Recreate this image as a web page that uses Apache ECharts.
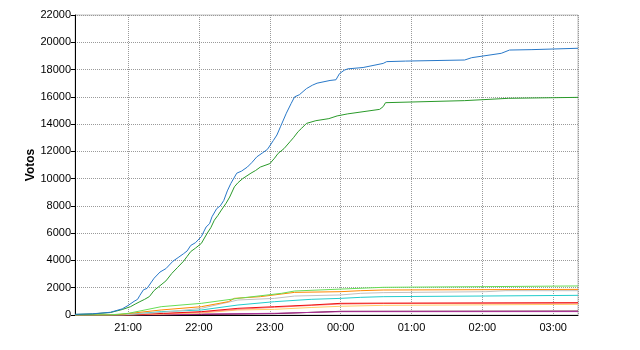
<!DOCTYPE html>
<html>
<head>
<meta charset="utf-8">
<script src="https://cdn.jsdelivr.net/npm/echarts@6/dist/echarts.min.js"></script>
<style>html,body{margin:0;padding:0;background:#fff}#c{width:640px;height:350px}</style>
</head>
<body>
<div id="c"></div>
<script>
// Time range and tick labels
var axisStart = "20:15";
var axisEnd = "03:21";
var yMax = 22000;
var yStep = 2000;

// Series names & colors
var seriesNames = ["S1","S2","S3","S4","S5","S6","S7","S8","S9","S10","S11"];
var seriesColors = ["#2878c8","#2a9a2a","#66dd55","#ff8800","#c0c0c0","#22cccc","#ee1111","#ff8888","#ffcc66","#aa3399","#660033"];

// Series values: [time, votes]
var s1 = [["20:15",50],["20:30",90],["20:45",200],["20:55",450],["21:00",700],["21:05",1000],["21:08",1150],["21:10",1450],["21:13",1850],["21:16",1950],["21:18",2200],["21:22",2700],["21:27",3150],["21:32",3400],["21:38",3950],["21:43",4250],["21:47",4500],["21:50",4700],["21:53",5100],["21:57",5300],["22:02",5750],["22:06",6450],["22:09",6700],["22:11",7200],["22:15",7800],["22:18",8000],["22:21",8400],["22:24",9100],["22:27",9650],["22:32",10400],["22:36",10550],["22:41",10850],["22:45",11200],["22:49",11600],["22:54",11900],["22:58",12150],["23:03",12800],["23:06",13200],["23:09",13800],["23:14",14800],["23:18",15500],["23:21",16000],["23:25",16150],["23:31",16600],["23:36",16850],["23:40",17000],["23:51",17200],["23:56",17250],["23:59",17700],["00:03",17950],["00:06",18050],["00:19",18150],["00:36",18450],["00:39",18580],["00:55",18620],["01:45",18700],["01:51",18870],["02:16",19190],["02:23",19430],["02:42",19460],["03:21",19560]];
var s2 = [["20:15",40],["20:30",80],["20:45",180],["20:55",400],["21:02",610],["21:06",800],["21:10",980],["21:14",1150],["21:18",1350],["21:22",1800],["21:27",2150],["21:32",2500],["21:37",3050],["21:42",3500],["21:47",3950],["21:50",4300],["21:53",4650],["21:57",4900],["22:02",5250],["22:07",6000],["22:10",6400],["22:13",6950],["22:16",7300],["22:19",7700],["22:23",8200],["22:26",8650],["22:30",9400],["22:33",9700],["22:37",10000],["22:44",10400],["22:48",10600],["22:52",10850],["23:00",11100],["23:04",11500],["23:07",11850],["23:12",12200],["23:17",12700],["23:20",13000],["23:24",13450],["23:27",13700],["23:31",14050],["23:39",14250],["23:50",14400],["23:57",14600],["00:06",14750],["00:33",15080],["00:36",15280],["00:38",15570],["01:45",15720],["02:22",15890],["03:21",15960]];
var s3 = [["20:15",0],["20:45",10],["21:00",120],["21:28",610],["22:02",855],["22:33",1220],["23:10",1590],["23:21",1760],["00:00",1900],["00:36",2030],["02:03",2080],["03:21",2130]];
var s4 = [["20:15",0],["20:50",10],["21:28",370],["22:02",610],["22:25",980],["22:30",1220],["22:52",1345],["23:21",1660],["00:00",1710],["00:17",1784],["00:36",1833],["03:21",1880]];
var s5 = [["20:15",0],["20:55",10],["21:30",200],["22:02",490],["22:33",1100],["23:04",1220],["23:21",1390],["00:00",1470],["00:17",1590],["00:36",1640],["02:03",1710],["02:20",1784],["03:21",1784]];
var s6 = [["20:15",0],["20:55",10],["21:28",245],["22:02",367],["22:33",733],["23:04",977],["23:35",1150],["00:00",1220],["00:17",1295],["00:36",1345],["02:03",1393],["03:21",1442]];
var s7 = [["20:15",0],["21:00",10],["21:30",120],["22:02",245],["22:33",490],["23:04",610],["23:35",733],["00:00",855],["00:36",870],["03:21",905]];
var s8 = [["20:15",0],["21:00",10],["22:02",200],["22:33",420],["23:04",560],["23:35",700],["00:00",800],["00:36",840],["03:21",860]];
var s9 = [["20:15",0],["21:05",10],["22:02",150],["22:33",367],["23:04",415],["23:35",550],["00:00",640],["00:36",708],["03:21",782]];
var s10 = [["20:15",0],["21:30",10],["22:02",73],["23:04",122],["00:00",245],["03:21",250]];
var s11 = [["20:15",0],["21:30",5],["22:02",40],["23:04",100],["00:00",270],["03:21",290]];
var allSeries = [s1,s2,s3,s4,s5,s6,s7,s8,s9,s10,s11];

function toTime(hm){
  var p = hm.split(":"), h = +p[0], m = +p[1];
  var d = new Date(2011,4,22,h,m,0);
  if (h < 12) d = new Date(2011,4,23,h,m,0);
  return d.getTime();
}

var series = allSeries.map(function(arr,i){
  return {
    name: seriesNames[i], type: 'line', showSymbol: false, symbol: 'none',
    data: arr.map(function(p){return [toTime(p[0]), p[1]];}),
    lineStyle: {width: 1, color: seriesColors[i]},
    itemStyle: {color: seriesColors[i]},
    z: 20 - i, animation: false
  };
}).reverse();

var font = 'Liberation Sans, Arial, sans-serif';
var chart = echarts.init(document.getElementById('c'), null, {renderer:'canvas'});
chart.setOption({
  animation: false,
  grid: {left: 75, right: 62, top: 15, bottom: 35, show: true, borderColor: '#c0c0c0', borderWidth: 1},
  xAxis: {
    type: 'time', min: toTime(axisStart), max: toTime(axisEnd),
    minInterval: 3600000, maxInterval: 3600000,
    axisLine: {lineStyle: {color: '#000', width: 1}},
    axisTick: {show: false},
    axisLabel: {formatter: '{HH}:{mm}', color: '#000', fontSize: 11, fontFamily: font, margin: 7, showMinLabel: false, showMaxLabel: false},
    splitLine: {show: true, lineStyle: {color: '#9a9a9a', type: [1,1], width: 1}}
  },
  yAxis: {
    type: 'value', min: 0, max: yMax, interval: yStep,
    name: 'Votos', nameLocation: 'middle', nameGap: 38, nameMoveOverlap: false,
    nameTextStyle: {fontWeight: 'bold', fontSize: 12, color: '#000', fontFamily: font},
    axisLine: {show: true, lineStyle: {color: '#000', width: 1}},
    axisTick: {show: true, length: 4, lineStyle: {color: '#000'}},
    axisLabel: {color: '#000', fontSize: 11, fontFamily: font, margin: 4, formatter: function(v){return String(v);}},
    splitLine: {show: true, lineStyle: {color: '#9a9a9a', type: [1,1], width: 1}}
  },
  series: series
});
</script>
</body>
</html>
